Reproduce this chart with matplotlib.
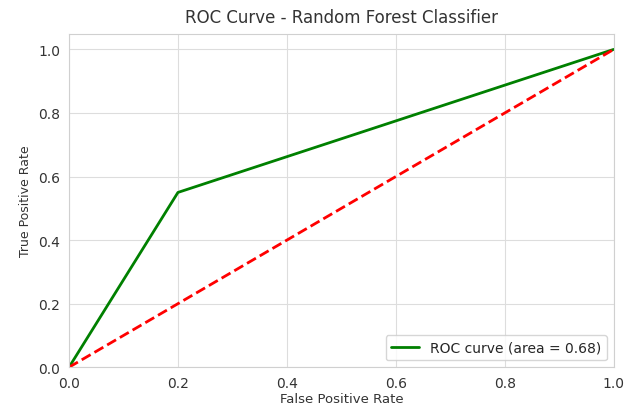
import matplotlib
matplotlib.use('Agg')
import matplotlib.pyplot as plt
import seaborn as sns

# ROC points
fpr = [0.0, 0.2, 1.0]
tpr = [0.0, 0.55, 1.0]
roc_auc = 0.68
chance = [0.0, 1.0]

sns.set_style('whitegrid')
plt.rcParams['font.family'] = ['DejaVu Sans']

fig = plt.figure(figsize=(6.29, 4.06), dpi=100)
ax = fig.add_axes([0.1097, 0.093, 0.866, 0.822])

ax.plot(fpr, tpr, color='green', lw=2, label=f'ROC curve (area = {roc_auc:.2f})')
ax.plot(chance, chance, color='red', lw=2, linestyle='--')

ax.set_xlim(0.0, 1.0)
ax.set_ylim(0.0, 1.05)
ax.set_xlabel('False Positive Rate', fontsize=9.5, color='#333333', labelpad=1)
ax.set_ylabel('True Positive Rate', fontsize=9, color='#333333')
ax.set_title('ROC Curve - Random Forest Classifier', fontsize=12, color='#333333', pad=8)
ax.tick_params(labelsize=10, colors='#333333', pad=3)
ax.legend(loc='lower right', fontsize=10)

for s in ax.spines.values():
    s.set_color('#d0d0d0')
ax.grid(color='#dddddd')

fig.savefig('out.png', dpi=100)
